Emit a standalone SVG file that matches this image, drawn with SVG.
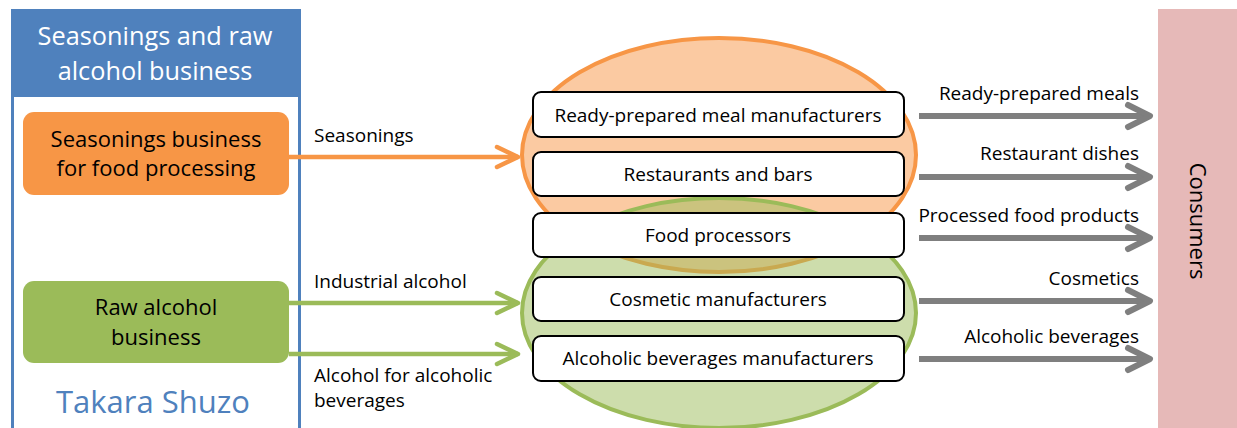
<svg xmlns="http://www.w3.org/2000/svg" width="1237" height="428" viewBox="0 0 1237 428">
  <style>
    text { font-family: "Open Sans", "Noto Sans", "Liberation Sans", sans-serif; fill: #000; }
    .mid { text-anchor: middle; }
    .end { text-anchor: end; }
    .lbl { font-size: 19px; }
    .unit { fill: #fff; stroke: #000; stroke-width: 2; }
    .flow-o { stroke: #F79646; stroke-width: 4.5; fill: none; }
    .flow-g { stroke: #9BBB59; stroke-width: 4.5; fill: none; }
    .flow-k { stroke: #7F7F7F; stroke-width: 6; fill: none; }
  </style>
  <defs>
    <marker id="headO" markerUnits="userSpaceOnUse" viewBox="-28 -14 32 28" markerWidth="32" markerHeight="28" refX="0" refY="0" orient="auto" overflow="visible">
      <path d="M-21,-10 L0,0 L-21,10" fill="none" stroke="#F79646" stroke-width="4.5" stroke-linecap="round" stroke-linejoin="round"/>
    </marker>
    <marker id="headG" markerUnits="userSpaceOnUse" viewBox="-28 -14 32 28" markerWidth="32" markerHeight="28" refX="0" refY="0" orient="auto" overflow="visible">
      <path d="M-21,-10 L0,0 L-21,10" fill="none" stroke="#9BBB59" stroke-width="4.5" stroke-linecap="round" stroke-linejoin="round"/>
    </marker>
    <marker id="headK" markerUnits="userSpaceOnUse" viewBox="-28 -16 32 32" markerWidth="32" markerHeight="32" refX="0" refY="0" orient="auto" overflow="visible">
      <path d="M-22,-11 L0,0 L-22,11" fill="none" stroke="#7F7F7F" stroke-width="6" stroke-linecap="round" stroke-linejoin="round"/>
    </marker>
  </defs>

  <!-- Company panel -->
  <g id="takara-panel">
    <rect x="12.5" y="10.5" width="287" height="430" fill="#fff" stroke="#4F81BD" stroke-width="3"/>
    <rect x="11" y="9" width="290" height="88" fill="#4F81BD"/>
    <text class="mid" x="155" y="45" font-size="25.3" style="fill:#fff">Seasonings and raw</text>
    <text class="mid" x="155" y="80" font-size="25.3" style="fill:#fff">alcohol business</text>
    <text class="mid" x="153" y="413" font-size="31" style="fill:#4F81BD">Takara Shuzo</text>
  </g>

  <g id="seasonings-business">
    <rect x="23" y="112" width="266" height="83" rx="11" fill="#F79646"/>
    <text class="mid" x="156" y="146.5" font-size="22">Seasonings business</text>
    <text class="mid" x="156" y="176" font-size="22">for food processing</text>
  </g>

  <g id="raw-alcohol-business">
    <rect x="23" y="281" width="266" height="82" rx="11" fill="#9BBB59"/>
    <text class="mid" x="156" y="315" font-size="22">Raw alcohol</text>
    <text class="mid" x="156" y="345" font-size="22">business</text>
  </g>

  <!-- Customer groups -->
  <g id="seasonings-customers">
    <ellipse cx="719" cy="155" rx="197" ry="117" fill="#F79646" fill-opacity="0.5" stroke="#F79646" stroke-width="4"/>
  </g>
  <g id="alcohol-customers">
    <ellipse cx="719" cy="313" rx="197" ry="115" fill="#9BBB59" fill-opacity="0.5" stroke="#9BBB59" stroke-width="4"/>
  </g>

  <g id="ready-meal-makers">
    <rect class="unit" x="533" y="92" width="371" height="45" rx="8"/>
    <text class="mid lbl" x="718" y="121.5">Ready-prepared meal manufacturers</text>
  </g>
  <g id="restaurants">
    <rect class="unit" x="533" y="152" width="371" height="44" rx="8"/>
    <text class="mid lbl" x="718" y="181">Restaurants and bars</text>
  </g>
  <g id="food-processors">
    <rect class="unit" x="533" y="213" width="371" height="44" rx="8"/>
    <text class="mid lbl" x="718" y="242">Food processors</text>
  </g>
  <g id="cosmetic-makers">
    <rect class="unit" x="533" y="277" width="371" height="44" rx="8"/>
    <text class="mid lbl" x="718" y="305.5">Cosmetic manufacturers</text>
  </g>
  <g id="beverage-makers">
    <rect class="unit" x="533" y="336" width="371" height="45" rx="8"/>
    <text class="mid lbl" x="718" y="365">Alcoholic beverages manufacturers</text>
  </g>

  <g id="consumers">
    <rect x="1158" y="9" width="79" height="420" fill="#E6B9B8"/>
    <text class="mid" transform="translate(1190 221) rotate(90)" font-size="22">Consumers</text>
  </g>

  <!-- Product flows -->
  <g id="connectors">
    <line class="flow-o" x1="289" y1="157" x2="518" y2="157" marker-end="url(#headO)"/>
    <line class="flow-g" x1="289" y1="303" x2="518" y2="303" marker-end="url(#headG)"/>
    <line class="flow-g" x1="289" y1="354" x2="518" y2="354" marker-end="url(#headG)"/>

    <line class="flow-k" x1="919" y1="116" x2="1150" y2="116" marker-end="url(#headK)"/>
    <line class="flow-k" x1="919" y1="177" x2="1150" y2="177" marker-end="url(#headK)"/>
    <line class="flow-k" x1="919" y1="238" x2="1150" y2="238" marker-end="url(#headK)"/>
    <line class="flow-k" x1="919" y1="301" x2="1150" y2="301" marker-end="url(#headK)"/>
    <line class="flow-k" x1="919" y1="359" x2="1150" y2="359" marker-end="url(#headK)"/>

    <text class="lbl" x="314" y="141.5">Seasonings</text>
    <text class="lbl" x="314" y="287.5">Industrial alcohol</text>
    <text class="lbl" x="314" y="381.5">Alcohol for alcoholic</text>
    <text class="lbl" x="314" y="406.5">beverages</text>

    <text class="end lbl" x="1139" y="100">Ready-prepared meals</text>
    <text class="end lbl" x="1139" y="160">Restaurant dishes</text>
    <text class="end lbl" x="1139" y="221.5">Processed food products</text>
    <text class="end lbl" x="1139" y="285">Cosmetics</text>
    <text class="end lbl" x="1139" y="343">Alcoholic beverages</text>
  </g>
</svg>
